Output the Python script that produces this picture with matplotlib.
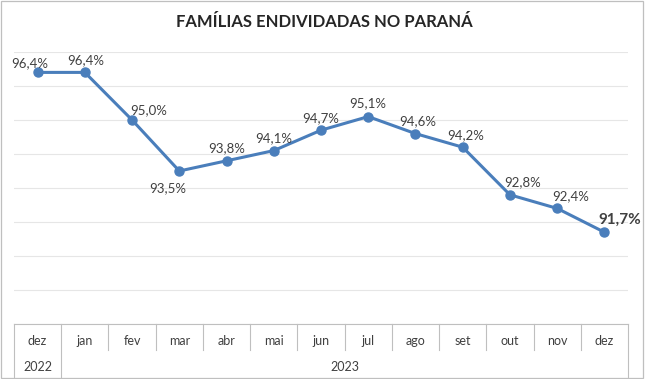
import matplotlib
matplotlib.use("Agg")
import matplotlib.pyplot as plt
from matplotlib.transforms import blended_transform_factory
from matplotlib.patches import Rectangle

plt.rcParams['font.family'] = ['Lato', 'DejaVu Sans']

# data
months = ['dez', 'jan', 'fev', 'mar', 'abr', 'mai', 'jun', 'jul', 'ago', 'set', 'out', 'nov', 'dez']
years = ['2022', '2023']
year_spans = [(0, 0), (1, 12)]
values = [96.4, 96.4, 95.0, 93.5, 93.8, 94.1, 94.7, 95.1, 94.6, 94.2, 92.8, 92.4, 91.7]

# label offsets in points (dx, dy)
offsets = [(-6, 7), (1, 9), (12, 7), (-8, -12), (0, 9), (0, 9), (0, 9), (0, 10),
           (2, 9), (2, 9), (9, 9), (10, 9), (11, 9)]

W, H = 648, 379
fig = plt.figure(figsize=(W / 100, H / 100), dpi=100)
# outer chart border (slightly inset on the right like the source)
fig.patches.append(Rectangle((1 / W, 1 - 378 / H), 642 / W, 377 / H, transform=fig.transFigure,
                             fill=False, edgecolor='#BFBFBF', linewidth=0.9))

left, right, top, bottom = 14, 628, 52, 324
ax = fig.add_axes([left / W, 1 - bottom / H, (right - left) / W, (bottom - top) / H])

x = list(range(len(values)))
ax.plot(x, values, color='#4A7EBB', linewidth=2.2, marker='o', markersize=6.5, zorder=3)

ax.set_xlim(-0.5, len(values) - 0.5)
ax.set_ylim(89, 97)
ax.set_yticks(range(89, 98))
ax.set_xticks([])
ax.tick_params(left=False, labelleft=False)
ax.grid(axis='y', color='#E6E6E6', linewidth=0.8)
ax.set_axisbelow(True)
for s in ['top', 'left', 'right']:
    ax.spines[s].set_visible(False)
ax.spines['bottom'].set_color('#BFBFBF')
ax.spines['bottom'].set_linewidth(0.8)

for i, v in enumerate(values):
    last = i == len(values) - 1
    ax.annotate(f'{v:.1f}%'.replace('.', ','), (i, v), xytext=offsets[i], textcoords='offset points',
                ha='center', va='center', fontsize=11 if last else 9.5,
                fontweight='bold' if last else 'normal', color='#404040')

# category table below the axis
tr = blended_transform_factory(ax.transData, ax.transAxes)
ph = bottom - top
row1 = -(350 - bottom) / ph
row2 = -(377 - bottom) / ph
lc = '#BFBFBF'
for b in [i - 0.5 for i in range(len(months) + 1)]:
    full = b in (-0.5, 0.5, len(months) - 0.5)
    ax.plot([b, b], [0, row2 if full else row1], transform=tr, color=lc, linewidth=0.8, clip_on=False)

for i, m in enumerate(months):
    ax.text(i, -(341 - bottom) / ph, m, transform=tr, ha='center', va='center', fontsize=9, color='#404040')
for yr, (a, b) in zip(years, year_spans):
    ax.text((a + b) / 2, -(367 - bottom) / ph, yr, transform=tr, ha='center', va='center',
            fontsize=9, color='#404040')

fig.text(0.5, 1 - 22 / H, 'FAMÍLIAS ENDIVIDADAS NO PARANÁ', ha='center', va='center',
         fontsize=12, fontweight='bold', color='#262626')

fig.savefig('out.png', dpi=100)
